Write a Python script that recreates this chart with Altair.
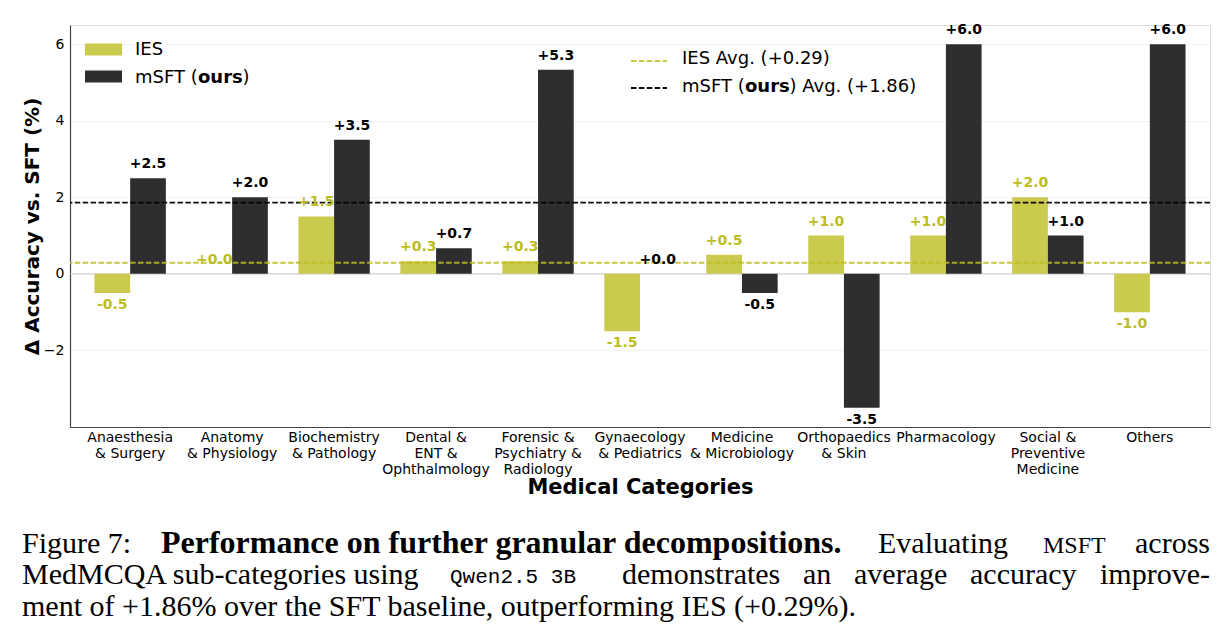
import altair as alt
import pandas as pd

categories = [
    "Anaesthesia\n& Surgery", "Anatomy\n& Physiology", "Biochemistry\n& Pathology",
    "Dental &\nENT &\nOphthalmology", "Forensic &\nPsychiatry &\nRadiology",
    "Gynaecology\n& Pediatrics", "Medicine\n& Microbiology", "Orthopaedics\n& Skin",
    "Pharmacology", "Social &\nPreventive\nMedicine", "Others",
]
ies_values = [-0.5, 0.0, 1.5, 0.33, 0.33, -1.5, 0.5, 1.0, 1.0, 2.0, -1.0]
msft_values = [2.5, 2.0, 3.5, 0.67, 5.33, 0.0, -0.5, -3.5, 6.0, 1.0, 6.0]
methods = ["IES", "mSFT"]
avg_values = [0.29, 1.86]
y_ticks = [-2, 0, 2, 4, 6]

OLIVE = "#bcbd22"
OLIVE_BAR = "#c9ca4e"
DARK_BAR = "#2e2e2e"

rows = []
for c, a, b in zip(categories, ies_values, msft_values):
    rows.append({"cat": c, "method": "IES", "value": a, "label": f"{a:+.1f}"})
    rows.append({"cat": c, "method": "mSFT", "value": b, "label": f"{b:+.1f}"})
df = pd.DataFrame(rows)
avg_df = pd.DataFrame({"method": methods, "avg": avg_values})
one = pd.DataFrame({"k": [0]})

x_enc = alt.X(
    "cat:N", sort=categories,
    scale=alt.Scale(paddingInner=0.3, paddingOuter=0.24),
    axis=alt.Axis(
        title="Medical Categories", labelExpr="split(datum.label, '\\n')",
        labelAngle=0, ticks=False, labelFontSize=14, labelLineHeight=16,
        labelPadding=3, labelOverlap=False, labelColor="black",
        titleFontSize=21, titleFontWeight="bold", titlePadding=0, titleColor="black",
        domainColor="#444444", domainWidth=1.2,
    ),
)
xo_enc = alt.XOffset("method:N", sort=methods, scale=alt.Scale(paddingInner=0, paddingOuter=0))
y_enc = alt.Y(
    "value:Q",
    scale=alt.Scale(domain=[-4, 6.5], nice=False),
    axis=alt.Axis(
        values=y_ticks, title="Δ Accuracy vs. SFT (%)", ticks=False,
        labelFontSize=14, labelPadding=6, labelColor="black",
        grid=True, gridColor="#eeeeee", gridWidth=0.8,
        titleFontSize=20, titleFontWeight="bold", titlePadding=1, titleColor="black",
        domainColor="#444444", domainWidth=1.2,
    ),
)

is_ies = alt.datum.method == "IES"

zero_line = alt.Chart(one).mark_rule(color="#cccccc", strokeWidth=1).encode(y=alt.datum(0))

bars = alt.Chart(df).mark_bar().encode(
    x=x_enc, xOffset=xo_enc, y=y_enc, y2=alt.datum(0),
    color=alt.condition(is_ies, alt.value(OLIVE_BAR), alt.value(DARK_BAR)),
)

avg_lines = alt.Chart(avg_df).mark_rule(strokeDash=[5.5, 2.4], strokeWidth=1.8).encode(
    y="avg:Q",
    color=alt.condition(is_ies, alt.value(OLIVE), alt.value("black")),
    opacity=alt.condition(is_ies, alt.value(0.85), alt.value(0.95)),
)

lab_pos = alt.Chart(df).transform_filter(alt.datum.value >= 0).mark_text(
    fontSize=14, fontWeight="bold", baseline="middle", dy=-14
).encode(
    x=x_enc, xOffset=xo_enc, y=y_enc, text="label:N",
    color=alt.condition(is_ies, alt.value(OLIVE), alt.value("black")),
)
lab_neg = alt.Chart(df).transform_filter(alt.datum.value < 0).mark_text(
    fontSize=14, fontWeight="bold", baseline="middle", dy=12
).encode(
    x=x_enc, xOffset=xo_enc, y=y_enc, text="label:N",
    color=alt.condition(is_ies, alt.value(OLIVE), alt.value("black")),
)

layers = [zero_line, bars, avg_lines, lab_pos, lab_neg]

# ---- legends (manual) ----
def rect(x, x2, y, y2, color):
    return alt.Chart(one).mark_rect(color=color).encode(
        x=alt.value(x), x2=alt.value(x2), y=alt.value(y), y2=alt.value(y2))

def txt(s, x, y, size=18, weight="normal", font="DejaVu Sans", align="left",
        baseline="middle", color="black"):
    return alt.Chart(one).mark_text(
        text=s, fontSize=size, fontWeight=weight, font=font, align=align,
        baseline=baseline, color=color,
    ).encode(x=alt.value(x), y=alt.value(y))

def dash(x, x2, y, color, opacity):
    return alt.Chart(one).mark_rule(
        strokeDash=[5.5, 2.4], strokeWidth=1.8, color=color, opacity=opacity
    ).encode(x=alt.value(x), x2=alt.value(x2), y=alt.value(y))

layers += [
    rect(15, 52, 18.5, 30.5, OLIVE_BAR),
    rect(15, 52, 45.5, 57.5, DARK_BAR),
    txt("IES", 65, 25),
    txt("mSFT (", 65, 53),
    txt("ours", 128, 53, weight="bold"),
    txt(")", 172.5, 53),
    dash(561, 597, 36, OLIVE, 0.85),
    dash(561, 597, 63, "black", 0.95),
    txt("IES Avg. (+0.29)", 612, 34),
    txt("mSFT (", 612, 62),
    txt("ours", 675, 62, weight="bold"),
    txt(") Avg. (+1.86)", 719.5, 62),
]

# ---- caption ----
SERIF = "Liberation Serif"
X0, Y0 = 70, 25
cap = [
    ("Figure 7:", 22, 553, 30, "normal", SERIF, "left"),
    ("Performance on further granular decompositions.", 161, 553, 32, "bold", SERIF, "left"),
    ("Evaluating", 878, 553, 30, "normal", SERIF, "left"),
    ("MSFT", 1043, 553, 24, "normal", SERIF, "left"),
    ("across", 1210, 553, 30, "normal", SERIF, "right"),
    ("MedMCQA sub-categories using", 22, 584, 30, "normal", SERIF, "left"),
    ("Qwen2.5  3B", 450, 583, 21, "normal", "Liberation Mono", "left"),
    ("demonstrates", 622, 584, 30, "normal", SERIF, "left"),
    ("an", 803, 584, 30, "normal", SERIF, "left"),
    ("average", 854, 584, 30, "normal", SERIF, "left"),
    ("accuracy", 970, 584, 30, "normal", SERIF, "left"),
    ("improve-", 1210, 584, 30, "normal", SERIF, "right"),
    ("ment of +1.86% over the SFT baseline, outperforming IES (+0.29%).", 22, 616, 30, "normal", SERIF, "left"),
]
for s, x, y, size, weight, font, align in cap:
    layers.append(txt(s, x - X0, y - Y0, size=size, weight=weight, font=font,
                      align=align, baseline="alphabetic"))

chart = alt.layer(*layers).properties(
    width=1140, height=402,
    autosize=alt.AutoSizeParams(type="none"),
    padding={"left": 70, "top": 25, "right": 22, "bottom": 214},
    background="white",
).configure_view(stroke=None).configure(
    font="DejaVu Sans"
).configure_axis(labelFont="DejaVu Sans", titleFont="DejaVu Sans")

chart.save("out.html", embed_options={"renderer": "svg", "actions": False})
